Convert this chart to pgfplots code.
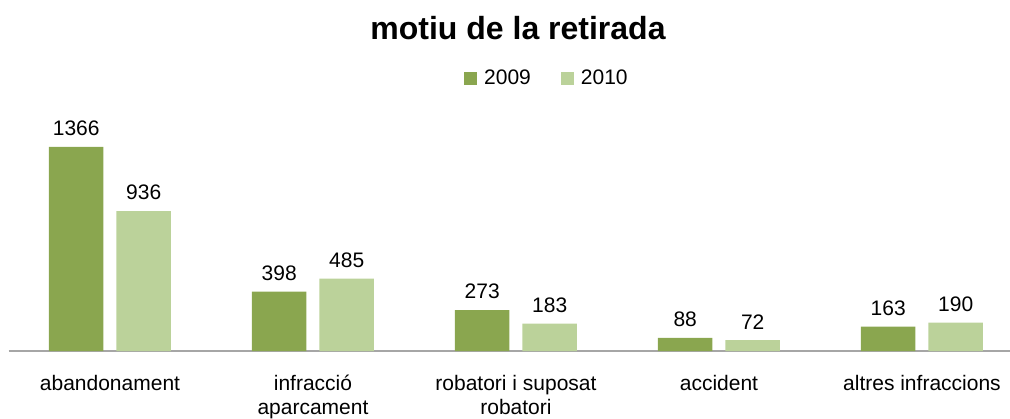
\documentclass[border=0pt]{standalone}
\usepackage{pgfplots}
\pgfplotsset{compat=1.18}
\usepackage{fontspec}
\setmainfont{Liberation Sans}
\definecolor{dg}{HTML}{8AA64F}
\definecolor{lg}{HTML}{BBD29A}
\definecolor{ax}{HTML}{A6A6A6}
\begin{document}
\begin{tikzpicture}[x=1pt,y=1pt]
\path[use as bounding box] (0,0) rectangle (1010,418);
\node[font=\fontsize{32}{36}\selectfont\bfseries] at (518,390) {motiu de la retirada};
\begin{axis}[
  at={(8.5pt,67pt)}, anchor=south west,
  scale only axis, width=1015pt, height=239pt,
  xmin=-0.5, xmax=4.5, ymin=0, ymax=1600,
  ybar=13pt, bar width=54.5pt,
  hide y axis,
  axis x line*=bottom,
  x axis line style={draw=ax, line width=1.2pt, -},
  xtick={0,1,2,3,4},
  xtick style={draw=none},
  xticklabels={abandonament, infracció\\aparcament, robatori i suposat\\robatori, accident, altres infraccions},
  xticklabel style={align=center, font=\fontsize{21}{24}\selectfont, inner sep=0pt, anchor=north, yshift=-19.5pt},
  nodes near coords,
  every node near coord/.append style={font=\fontsize{21}{25}\selectfont, text=black, inner sep=0pt, yshift=11pt},
  /pgf/number format/assume math mode=true,
  /pgf/number format/1000 sep={},
  legend style={at={(0.5305,1.142)}, anchor=center, draw=none, legend columns=2, font=\fontsize{21}{25}\selectfont,
    /tikz/every even column/.append style={column sep=28pt},
    /tikz/every odd column/.append style={column sep=5pt}},
  legend image code/.code={\fill[#1] (0pt,-6.5pt) rectangle (13pt,6.5pt);},
  legend cell align=left,
]
\addplot[fill=dg, draw=none] coordinates {(0,1366) (1,398) (2,273) (3,88) (4,163)};
\addplot[fill=lg, draw=none] coordinates {(0,936) (1,485) (2,183) (3,72) (4,190)};
\legend{2009,2010}
\end{axis}
\end{tikzpicture}
\end{document}
